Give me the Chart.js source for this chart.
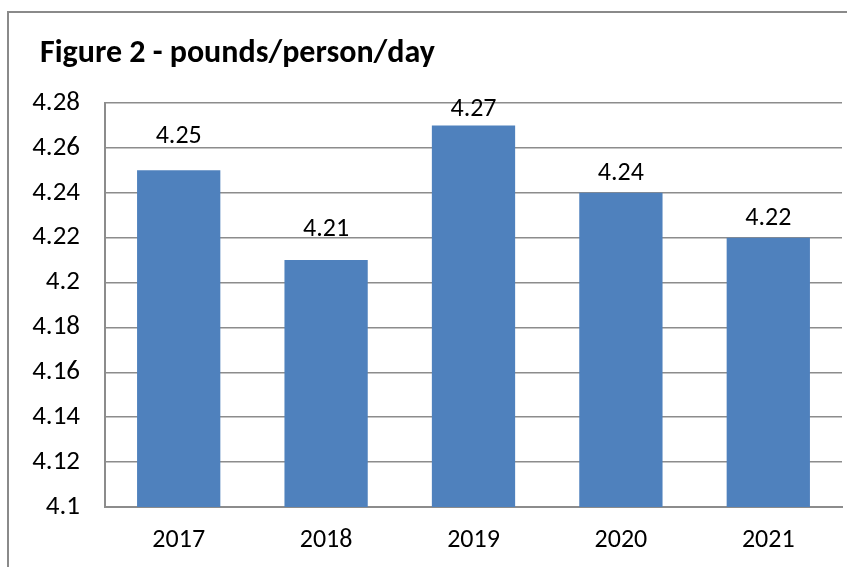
<!DOCTYPE html>
<html>
<head>
<meta charset="utf-8">
<script src="https://cdn.jsdelivr.net/npm/chart.js@4/dist/chart.umd.min.js"></script>
<style>
  html, body { margin: 0; padding: 0; background: #fff; }
  #wrap { position: relative; width: 847px; height: 567px; overflow: hidden; }
  #frame { position: absolute; left: 7px; top: 11px; width: 900px; height: 600px;
           border-left: 2px solid #8a8a8a; border-top: 2px solid #8a8a8a; pointer-events: none; }
  canvas { position: absolute; left: 0; top: 0; }
</style>
</head>
<body>
<div id="wrap">
  <canvas id="myChart" width="847" height="567"></canvas>
  <div id="frame"></div>
</div>
<script>
var years = ["2017", "2018", "2019", "2020", "2021"];
var pounds = [4.25, 4.21, 4.27, 4.24, 4.22];
var yMin = 4.1;
var yMax = 4.28;
var yStep = 0.02;
var chartTitle = "Figure 2 - pounds/person/day";

var fontFam = "Carlito, 'Open Sans', sans-serif";
var gridColor = "#8c8c8c";

// gap between bar top and label baseline (labels were nudged in the original)
var labelGap = [27, 24, 9, 13, 13];

var barLabels = {
  id: 'barLabels',
  afterDatasetsDraw: function(chart) {
    var ctx = chart.ctx;
    var meta = chart.getDatasetMeta(0);
    ctx.save();
    ctx.font = "26px " + fontFam;
    ctx.fillStyle = "#000";
    ctx.textAlign = "center";
    ctx.textBaseline = "alphabetic";
    meta.data.forEach(function(bar, i) {
      ctx.fillText(String(pounds[i]), bar.x, bar.y - labelGap[i]);
    });
    ctx.restore();
  }
};

// title sits left of the y labels, so draw it by hand
var leftTitle = {
  id: 'leftTitle',
  afterDraw: function(chart) {
    var ctx = chart.ctx;
    ctx.save();
    ctx.font = "bold 32px " + fontFam;
    ctx.fillStyle = "#000";
    ctx.textAlign = "left";
    ctx.textBaseline = "alphabetic";
    ctx.fillText(chartTitle, 40, 62);
    ctx.restore();
  }
};

var canvas = document.getElementById('myChart');
var myChart = new Chart(canvas, {
  type: 'bar',
  data: {
    labels: years,
    datasets: [{
      data: pounds,
      backgroundColor: "#4F81BD",
      borderWidth: 0,
      barPercentage: 0.565,
      categoryPercentage: 1.0
    }]
  },
  options: {
    responsive: false,
    animation: false,
    layout: { padding: { left: 18, right: 5, top: 103, bottom: 0 } },
    plugins: {
      legend: { display: false },
      tooltip: { enabled: false },
      title: { display: false }
    },
    scales: {
      x: {
        afterFit: function(scale) { scale.height = 60; },
        grid: { display: false, drawTicks: false },
        border: { display: true, color: gridColor, width: 2 },
        ticks: { color: "#000", padding: 18, font: { family: fontFam, size: 26 } }
      },
      y: {
        min: yMin,
        max: yMax,
        afterFit: function(scale) { scale.width = 87; },
        grid: { color: gridColor, lineWidth: 1.5, drawTicks: false },
        border: { display: true, color: gridColor, width: 2 },
        ticks: {
          stepSize: yStep,
          color: "#000",
          padding: 25,
          font: { family: fontFam, size: 27 },
          callback: function(v) { return String(Number(v.toFixed(2))); }
        }
      }
    }
  },
  plugins: [barLabels, leftTitle]
});
</script>
</body>
</html>
